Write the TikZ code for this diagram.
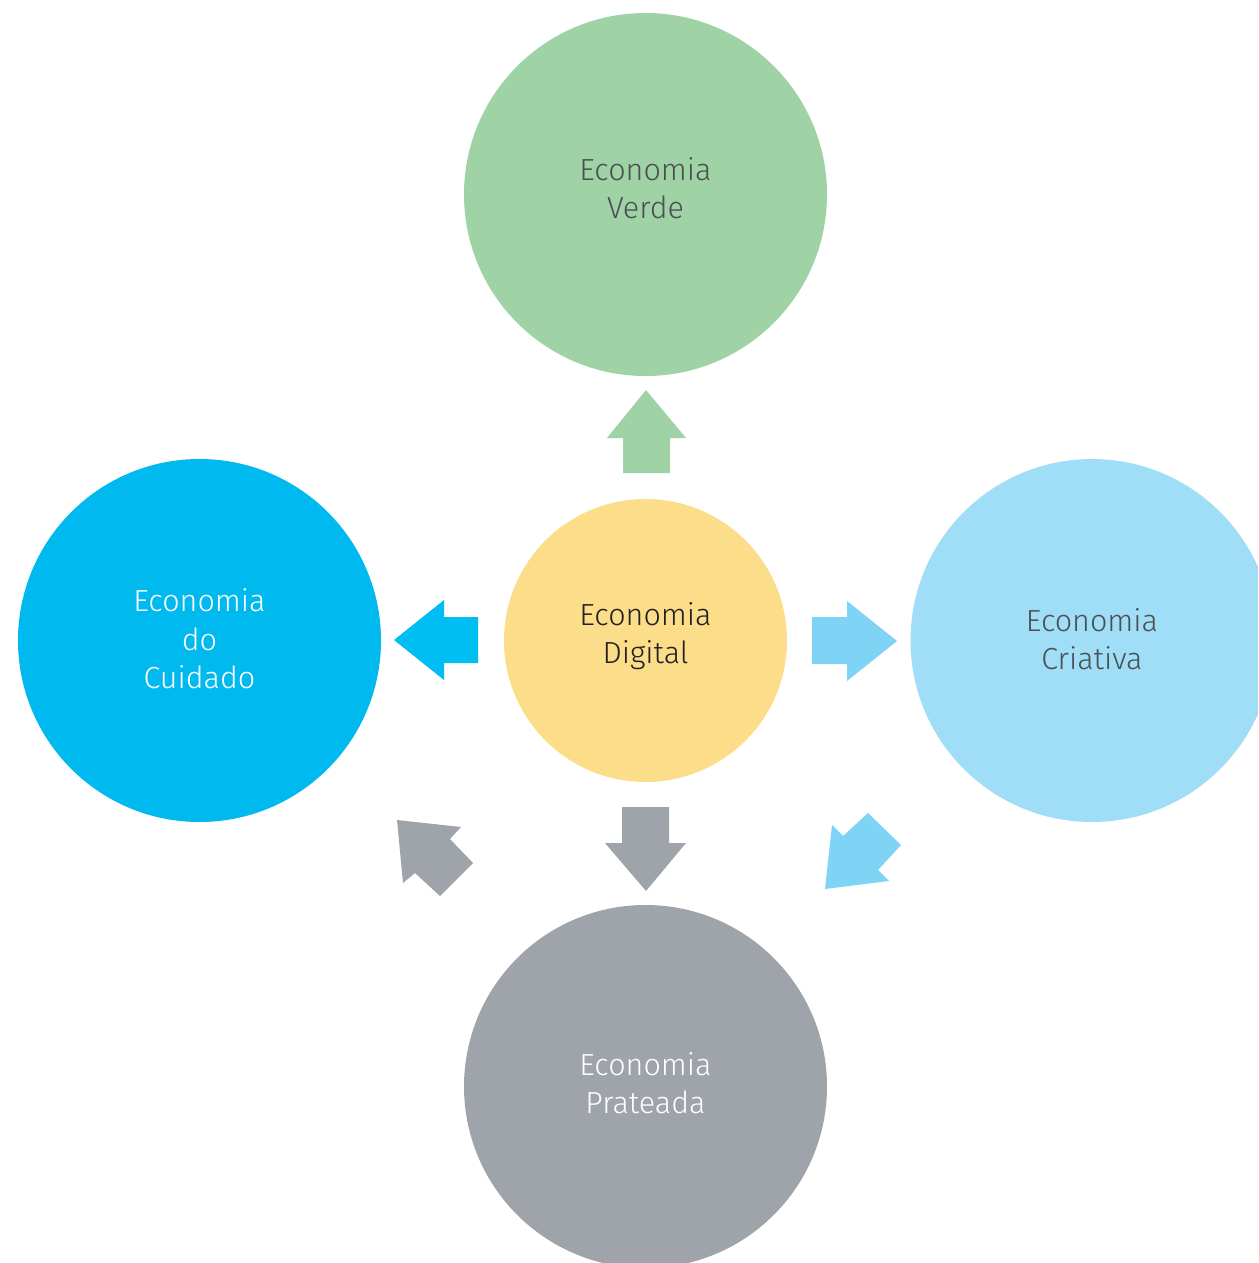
\documentclass[tikz,border=0pt]{standalone}
\usepackage{fontspec}
\setmainfont{Fira Sans Light}
\begin{document}
\begin{tikzpicture}[x=1pt,y=-1pt,
  bubble/.style={circle,inner sep=0pt,minimum size=#1},
  label/.style={align=center,font=\fontsize{30.5}{38.5}\selectfont},
  blk/.style={fill=#1,draw=none}]
\definecolor{verde}{HTML}{9FD3A6}
\definecolor{cuidado}{HTML}{00B9EF}
\definecolor{criativa}{HTML}{A0DDF7}
\definecolor{prata}{HTML}{9EA4A9}
\definecolor{digital}{HTML}{FCDD8A}
\definecolor{azularrow}{HTML}{7FD3F5}
\definecolor{azulescuro}{HTML}{00BEF1}
\definecolor{txtdark}{HTML}{4A4F52}
\definecolor{txtblack}{HTML}{231F20}
\useasboundingbox (0,0) rectangle (1258,1263);
\begin{scope}
\clip (0,0) rectangle (1258,1263);
% circles
\node[bubble=363pt,fill=verde] (verde) at (645.5,194.5) {};
\node[bubble=363pt,fill=cuidado] (cuidado) at (199.5,640.5) {};
\node[bubble=363pt,fill=criativa] (criativa) at (1092,640.5) {};
\node[bubble=363pt,fill=prata] (prateada) at (645.5,1086.5) {};
\node[bubble=283pt,fill=digital] (digital) at (645.5,640.5) {};
\end{scope}
% labels
\node[label,text=txtdark] (tverde) at (645.5,188) {Economia\\Verde};
\node[label,text=white] (tcuidado) at (199.5,639) {Economia\\do\\Cuidado};
\node[label,text=txtdark] (tcriativa) at (1092,639) {Economia\\Criativa};
\node[label,text=white] (tprata) at (645.5,1083) {Economia\\Prateada};
\node[label,text=txtblack] (tdigital) at (645.5,636) {Economia\\Digital};
% block arrows
\fill[blk=verde] (646,390) -- (686,438) -- (670,438) -- (670,473) -- (623,473) -- (623,438) -- (607,438) -- cycle;
\fill[blk=azulescuro] (394,640) -- (444,600) -- (444,617) -- (478,617) -- (478,663) -- (444,663) -- (444,680) -- cycle;
\fill[blk=azularrow] (897,641) -- (847,601) -- (847,617) -- (812,617) -- (812,664) -- (847,664) -- (847,681) -- cycle;
\fill[blk=prata] (646,891) -- (686,843) -- (669,843) -- (669,807) -- (622,807) -- (622,843) -- (605,843) -- cycle;
\fill[blk=prata] (397,820) -- (461,827) -- (450,839) -- (473,863) -- (440,896) -- (415,873) -- (403,883) -- cycle;
\fill[blk=azularrow] (825,889) -- (832,825) -- (843,836) -- (868,813) -- (901,845) -- (878,870) -- (889,881) -- cycle;
\end{tikzpicture}
\end{document}
